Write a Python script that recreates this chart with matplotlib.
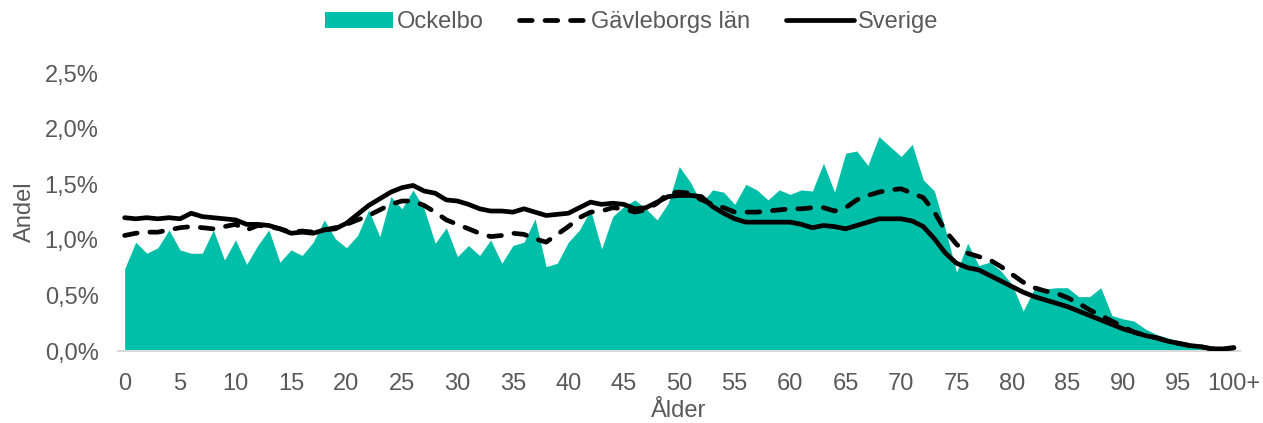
import matplotlib
matplotlib.use("Agg")
import matplotlib.pyplot as plt
from matplotlib.ticker import FuncFormatter
from matplotlib.patches import Patch
from matplotlib.lines import Line2D

plt.rcParams['font.family'] = ['Liberation Sans', 'DejaVu Sans']

ages = list(range(0, 101))

ockelbo = [0.74, 0.98, 0.88, 0.93, 1.09, 0.91, 0.88, 0.88, 1.09, 0.82,
           1.00, 0.78, 0.95, 1.09, 0.80, 0.91, 0.86, 0.98, 1.18, 1.01,
           0.93, 1.04, 1.27, 1.03, 1.39, 1.28, 1.45, 1.28, 0.97, 1.11,
           0.85, 0.95, 0.86, 1.00, 0.79, 0.95, 0.98, 1.19, 0.76, 0.79,
           0.98, 1.09, 1.27, 0.92, 1.21, 1.30, 1.36, 1.28, 1.18, 1.33,
           1.66, 1.52, 1.33, 1.45, 1.43, 1.32, 1.50, 1.45, 1.36, 1.45,
           1.41, 1.45, 1.44, 1.69, 1.43, 1.78, 1.80, 1.67, 1.93, 1.84,
           1.75, 1.86, 1.54, 1.44, 1.09, 0.71, 0.97, 0.77, 0.80, 0.72,
           0.60, 0.36, 0.56, 0.56, 0.57, 0.57, 0.49, 0.49, 0.57, 0.32,
           0.29, 0.27, 0.20, 0.15, 0.12, 0.09, 0.07, 0.04, 0.02, 0.01,
           0.05]

gavleborg = [1.04, 1.06, 1.07, 1.07, 1.09, 1.11, 1.12, 1.11, 1.10, 1.12,
             1.14, 1.09, 1.13, 1.12, 1.10, 1.07, 1.08, 1.07, 1.09, 1.11,
             1.14, 1.18, 1.22, 1.27, 1.32, 1.35, 1.35, 1.31, 1.25, 1.18,
             1.14, 1.10, 1.06, 1.03, 1.04, 1.06, 1.05, 1.01, 0.98, 1.05,
             1.12, 1.20, 1.25, 1.26, 1.29, 1.28, 1.25, 1.27, 1.33, 1.42,
             1.43, 1.42, 1.36, 1.32, 1.29, 1.25, 1.25, 1.25, 1.26, 1.27,
             1.28, 1.28, 1.29, 1.29, 1.26, 1.29, 1.36, 1.40, 1.43, 1.45,
             1.46, 1.42, 1.38, 1.25, 1.08, 0.96, 0.88, 0.85, 0.82, 0.76,
             0.69, 0.62, 0.57, 0.54, 0.52, 0.48, 0.43, 0.37, 0.32, 0.27,
             0.22, 0.17, 0.14, 0.12, 0.09, 0.07, 0.05, 0.04, 0.02, 0.02,
             0.03]

sverige = [1.20, 1.19, 1.20, 1.19, 1.20, 1.19, 1.24, 1.21, 1.20, 1.19,
           1.18, 1.14, 1.14, 1.13, 1.10, 1.06, 1.07, 1.06, 1.09, 1.10,
           1.15, 1.23, 1.31, 1.37, 1.43, 1.47, 1.49, 1.44, 1.42, 1.36,
           1.35, 1.32, 1.28, 1.26, 1.26, 1.25, 1.28, 1.25, 1.22, 1.23,
           1.24, 1.29, 1.34, 1.32, 1.33, 1.32, 1.28, 1.29, 1.34, 1.39,
           1.40, 1.40, 1.39, 1.30, 1.24, 1.19, 1.16, 1.16, 1.16, 1.16,
           1.16, 1.14, 1.11, 1.13, 1.12, 1.10, 1.13, 1.16, 1.19, 1.19,
           1.19, 1.17, 1.12, 1.01, 0.88, 0.79, 0.75, 0.73, 0.68, 0.63,
           0.58, 0.53, 0.49, 0.46, 0.43, 0.40, 0.36, 0.32, 0.28, 0.24,
           0.20, 0.17, 0.14, 0.12, 0.09, 0.07, 0.05, 0.04, 0.02, 0.02,
           0.03]

xtick_pos = list(range(0, 101, 5))
xtick_labels = [str(v) for v in range(0, 100, 5)] + ["100+"]
yticks = [0.0, 0.5, 1.0, 1.5, 2.0, 2.5]

teal = "#00BFA9"
gray = "#595959"
fs = 17
lw = 3.4
dash = (0, (2.7, 2.7))

fig = plt.figure(figsize=(12.63, 4.23), dpi=100)
ax = fig.add_axes([0.0934, 0.170, 0.8884, 0.657])

ax.fill_between(ages, 0, ockelbo, color=teal, linewidth=0, zorder=1)
ax.plot(ages, gavleborg, color="black", linewidth=lw, linestyle=dash,
        dash_capstyle='round', zorder=3)
ax.plot(ages, sverige, color="black", linewidth=lw, solid_capstyle='round',
        solid_joinstyle='round', zorder=4)

ax.set_xlim(-0.6, 100.55)
ax.set_ylim(0, 2.5)
ax.set_yticks(yticks)
ax.yaxis.set_major_formatter(FuncFormatter(lambda v, p: f"{v:.1f}%".replace(".", ",")))
ax.set_xticks(xtick_pos)
ax.set_xticklabels(xtick_labels)

for s in ["top", "right", "left"]:
    ax.spines[s].set_visible(False)
ax.spines["bottom"].set_color("#D9D9D9")
ax.spines["bottom"].set_linewidth(1.5)
ax.tick_params(axis="both", length=0, labelsize=fs, colors=gray)
ax.tick_params(axis="x", pad=15.5)
ax.tick_params(axis="y", pad=14)

ax.set_xlabel("Ålder", fontsize=fs, color=gray, labelpad=4)
ax.set_ylabel("Andel", fontsize=fs, color=gray, labelpad=6)

handles = [Patch(facecolor=teal, edgecolor="none"),
           Line2D([0], [0], color="black", linewidth=lw, linestyle=dash,
                  dash_capstyle='round'),
           Line2D([0], [0], color="black", linewidth=lw, solid_capstyle='round')]
labels = ["Ockelbo", "Gävleborgs län", "Sverige"]
fig.legend(handles, labels, loc="center", bbox_to_anchor=(0.5, 0.947), ncol=3,
           frameon=False, fontsize=fs, handlelength=2.9, handleheight=0.7,
           handletextpad=0.15, columnspacing=1.5, labelcolor=gray)

fig.savefig("out.png", dpi=100)
